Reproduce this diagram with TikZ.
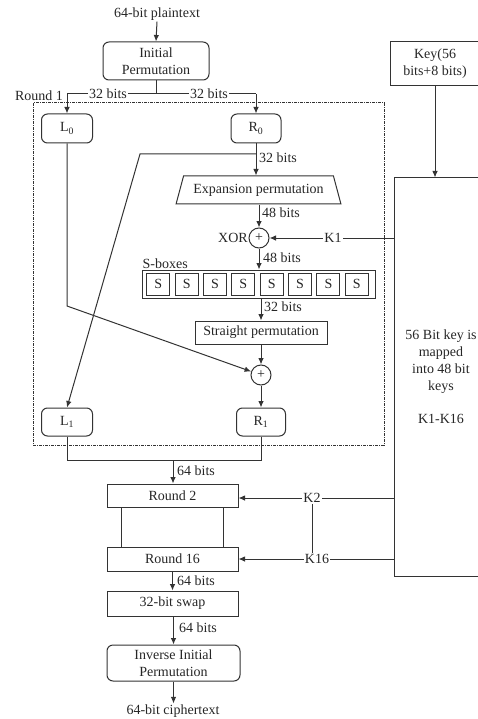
\documentclass[tikz,border=0pt]{standalone}
\usepackage{fontspec}
\setmainfont{Liberation Serif}
\usetikzlibrary{arrows.meta,shapes.geometric}
\begin{document}
\begin{tikzpicture}[x=1pt,y=-1pt,
  every node/.style={font=\fontsize{14}{17}\selectfont, text=black!85},
  line/.style={draw=black!80, line width=1pt},
  arr/.style={line, -{Latex[length=6.5pt,width=5.5pt]}},
  rbox/.style={line, rounded corners=6pt, inner sep=0pt, align=center},
  sqbox/.style={line, inner sep=0pt, align=center},
  lbl/.style={inner sep=1pt},
  onl/.style={fill=white, inner sep=1pt},
  xorc/.style={line, circle, minimum size=20pt, inner sep=0pt, font=\fontsize{14}{14}\selectfont},
  sb/.style={line, minimum width=23pt, minimum height=22pt, inner sep=0pt},
  dashdot/.style={draw=black!80, line width=1pt, dash pattern=on 3pt off 1pt on 1pt off 1pt}
]
\useasboundingbox (0,0) rectangle (478,719);
\clip (0,0) rectangle (478,719);

% top
\node[lbl] (pt) at (157,14) {64-bit plaintext};
\node[rbox, minimum width=106pt, minimum height=38pt] (ip) at (156,61) {Initial\\Permutation};
\draw[arr] (pt.south) -- (ip.north);

% split
\coordinate (split) at (156,94);
\coordinate (lsplit) at (67,94);
\coordinate (rsplit) at (256,94);
\node[rbox, minimum width=51pt, minimum height=29pt] (L0) at (67,128.5) {L\textsubscript{0}};
\node[rbox, minimum width=50pt, minimum height=29pt] (R0) at (256,128.5) {R\textsubscript{0}};
\draw[line] (ip.south) -- (split);
\draw[line] (lsplit) -- (rsplit);
\node[onl] (l32a) at (108,94) {32 bits};
\node[onl] (l32b) at (209,94) {32 bits};
\draw[arr] (lsplit) -- (L0.north);
\draw[arr] (rsplit) -- (R0.north);
\node[lbl] (round1) at (39,96) {Round 1};

% round 1 frame
\draw[dashdot] (33,103) rectangle (384,445);

% key side
\node[sqbox, minimum width=90pt, minimum height=44pt] (keybox) at (435,64) {Key(56\\bits+8 bits)};
\node[sqbox, minimum width=94pt, minimum height=398pt] (bigkey) at (441,377) {56 Bit key is\\mapped\\into 48 bit\\keys\\[16pt]K1-K16};
\draw[arr] (keybox.south) -- (keybox.south |- bigkey.north);

% expansion
\node[line, trapezium, trapezium left angle=62, trapezium right angle=62, trapezium stretches=true,
      minimum width=165pt, minimum height=28pt, inner sep=0pt] (exp) at (258.5,190) {Expansion permutation};
\coordinate (br) at (256,154);
\coordinate (bl) at (140,154);
\draw[line] (R0.south) -- (br);
\draw[arr] (br) -- (br |- exp.north);
\node[lbl, anchor=west] (l32c) at (258,158) {32 bits};

% xor 1
\node[xorc] (xor1) at (259,238) {+};
\draw[arr] (exp.south -| xor1) -- (xor1.north);
\node[lbl, anchor=west] (l48a) at (261,213) {48 bits};
\node[lbl, anchor=east, inner sep=0.5pt] (xorlbl) at (xor1.west) {XOR};
\draw[arr] (bigkey.west |- xor1) -- (xor1.east);
\node[onl] (k1) at (333,238) {K1};

% s-boxes
\node[sqbox, minimum width=233pt, minimum height=28pt] (sbox) at (258.5,284) {};
\foreach \i in {0,...,7} {
  \node[sb] (s\i) at (158.3+28.35*\i,284) {S};
}
\node[lbl, anchor=south west] (sboxlbl) at (sbox.north west) {S-boxes};
\draw[arr] (xor1.south) -- (xor1.south |- sbox.north);
\node[lbl, anchor=west] (l48b) at (262,258) {48 bits};

% straight permutation
\node[sqbox, minimum width=132pt, minimum height=23pt] (sp) at (261,332.5) {Straight permutation};
\draw[arr] (sbox.south -| sp) -- (sp.north);
\node[lbl, anchor=west] (l32d) at (263,307) {32 bits};

% xor 2
\node[xorc] (xor2) at (261,375) {+};
\draw[arr] (sp.south) -- (xor2.north);
\coordinate (lk) at (67,306);
\draw[arr] (L0.south) -- (lk) -- (xor2);

% L1 R1
\node[rbox, minimum width=51pt, minimum height=28pt] (L1) at (67,422) {L\textsubscript{1}};
\node[rbox, minimum width=49pt, minimum height=28pt] (R1) at (261,422) {R\textsubscript{1}};
\draw[arr] (xor2.south) -- (R1.north);
\draw[arr] (br) -- (bl) -- (L1.north);

% join
\coordinate (jl) at (67,460);
\coordinate (jr) at (261,460);
\coordinate (jm) at (173,460);
\draw[line] (L1.south) -- (jl) -- (jr) -- (R1.south);
\node[sqbox, minimum width=131pt, minimum height=23pt] (r2) at (172.5,495.5) {Round 2};
\draw[arr] (jm) -- (jm |- r2.north);
\node[lbl, anchor=west] (l64a) at (176,471) {64 bits};

% round 16
\node[sqbox, minimum width=131pt, minimum height=24pt] (r16) at (172.5,559) {Round 16};
\draw[line] (121,0 |- r2.south) -- (121,0 |- r16.north);
\draw[line] (223,0 |- r2.south) -- (223,0 |- r16.north);
\coordinate (k2a) at (394,498);
\draw[arr] (k2a) -- (r2.east |- k2a);
\node[onl] (k2) at (312,498) {K2};
\draw[arr] (bigkey.west |- r16.east) -- (r16.east);
\node[onl] (k16) at (317,559) {K16};
\draw[line] (k2.south) -- (k2.south |- k16.north);

% swap
\node[sqbox, minimum width=131pt, minimum height=25pt] (swap) at (172.5,603.5) {32-bit swap};
\draw[arr] (r16.south) -- (swap.north);
\node[lbl, anchor=west] (l64b) at (176,581) {64 bits};

% inverse IP
\node[rbox, minimum width=133pt, minimum height=36pt] (iip) at (173.5,663) {Inverse Initial\\Permutation};
\draw[arr] (swap.south -| iip) -- (iip.north);
\node[lbl, anchor=west] (l64c) at (178,628) {64 bits};

\node[lbl] (ct) at (173,711) {64-bit ciphertext};
\draw[arr] (iip.south) -- (iip.south |- ct.north);
\end{tikzpicture}
\end{document}
